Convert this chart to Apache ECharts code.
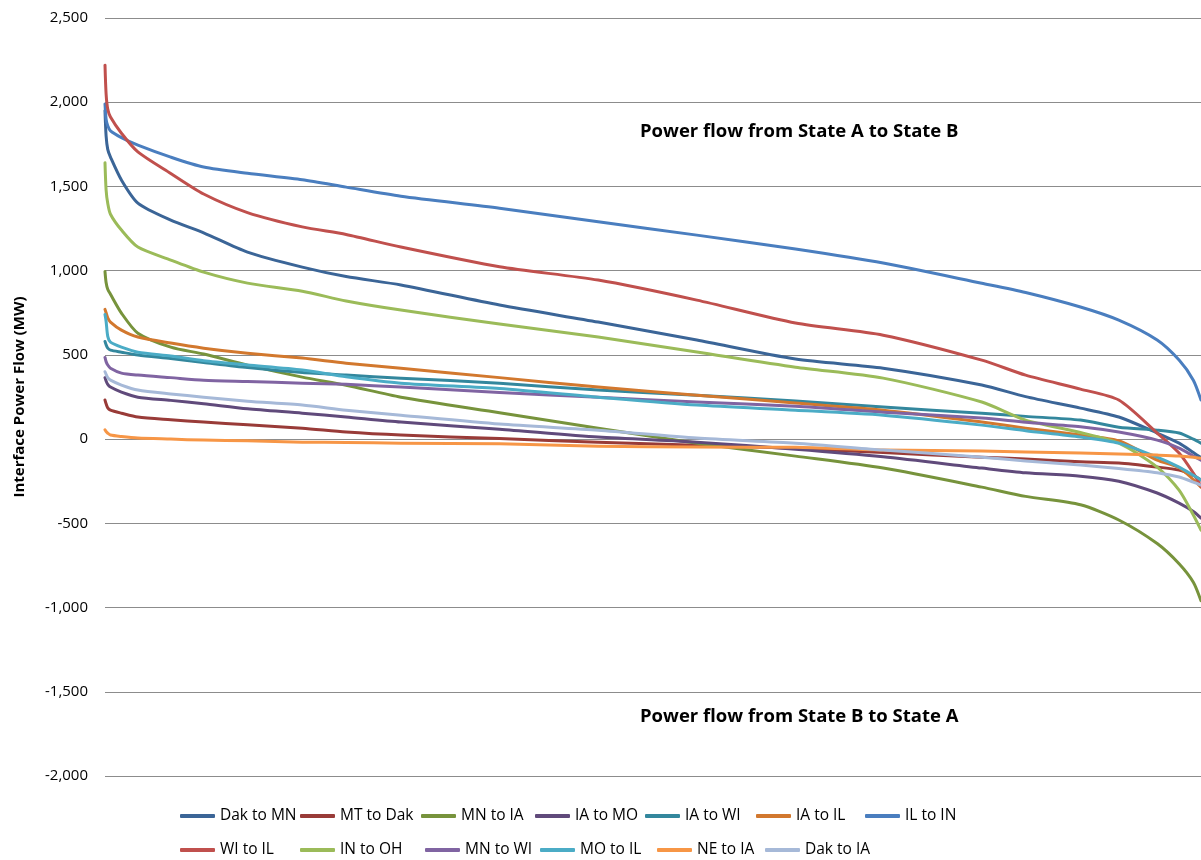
<!DOCTYPE html>
<html>
<head>
<meta charset="utf-8">
<script src="https://cdn.jsdelivr.net/npm/echarts@6/dist/echarts.min.js"></script>
<style>
  html, body { margin: 0; padding: 0; background: #fff; }
  #chart { width: 1201px; height: 860px; }
</style>
</head>
<body>
<div id="chart"></div>
<script>
// Duration position of each sample (% of hours, sorted from highest flow to lowest)
const hours = [0, 0.1, 0.25, 0.5, 1.5, 3, 6, 9, 13, 18, 22, 27, 36, 45, 54, 63, 71, 80, 84, 89, 92.5, 96, 98, 99.3, 100];

// Interface power flow duration curves (MW)
const dakToMN = [1950, 1800, 1720, 1674, 1538, 1401, 1300, 1225, 1110, 1021, 965, 915, 796, 695, 588, 475, 421, 321, 252, 184, 131, 36, -24, -80, -110];
const mtToDak = [232, 210, 185, 172, 154, 131, 115, 101, 85, 65, 42, 24, 3, -18, -36, -55, -80, -107, -118, -135, -142, -166, -184, -215, -243];
const mnToIA  = [995, 930, 890, 860, 748, 629, 546, 505, 439, 368, 320, 249, 157, 65, -24, -101, -172, -285, -340, -390, -480, -620, -740, -850, -960];
const iaToMO  = [365, 345, 325, 309, 279, 249, 230, 210, 180, 154, 131, 101, 59, 12, -18, -60, -105, -172, -200, -220, -250, -320, -380, -430, -469];
const iaToWI  = [580, 560, 540, 528, 516, 499, 478, 455, 425, 395, 380, 362, 332, 291, 261, 226, 190, 154, 135, 113, 71, 53, 36, 0, -24];
const iaToIL  = [770, 750, 720, 695, 647, 606, 570, 540, 510, 481, 451, 421, 365, 309, 261, 214, 172, 101, 65, 24, -10, -125, -170, -240, -285];
const ilToIN  = [1990, 1900, 1860, 1830, 1790, 1745, 1674, 1615, 1578, 1540, 1496, 1442, 1371, 1290, 1211, 1128, 1045, 925, 870, 784, 706, 588, 469, 350, 232];
const wiToIL  = [2220, 2050, 1960, 1912, 1816, 1705, 1577, 1455, 1345, 1260, 1215, 1140, 1023, 944, 825, 689, 617, 469, 380, 297, 232, 36, -83, -202, -280];
const inToOH  = [1640, 1480, 1400, 1335, 1241, 1140, 1063, 991, 926, 878, 820, 766, 683, 606, 517, 427, 362, 220, 113, 39, -24, -166, -303, -450, -540];
const mnToWI  = [485, 460, 440, 421, 392, 380, 365, 350, 342, 332, 325, 309, 276, 249, 220, 195, 160, 125, 100, 74, 42, -6, -53, -100, -125];
const moToIL  = [740, 700, 610, 576, 546, 516, 493, 465, 440, 410, 370, 332, 300, 249, 202, 172, 142, 83, 50, 12, -24, -107, -166, -215, -243];
const neToIA  = [55, 45, 35, 24, 15, 6, 0, -6, -10, -18, -20, -24, -28, -42, -47, -49, -65, -71, -77, -83, -88, -95, -100, -107, -113];
const dakToIA = [400, 385, 365, 350, 321, 291, 268, 249, 225, 202, 172, 142, 89, 53, 6, -24, -65, -107, -130, -154, -175, -200, -225, -255, -273];

const seriesNames = ['Dak to MN', 'MT to Dak', 'MN to IA', 'IA to MO', 'IA to WI', 'IA to IL', 'IL to IN',
                     'WI to IL', 'IN to OH', 'MN to WI', 'MO to IL', 'NE to IA', 'Dak to IA'];
const seriesValues = [dakToMN, mtToDak, mnToIA, iaToMO, iaToWI, iaToIL, ilToIN,
                      wiToIL, inToOH, mnToWI, moToIL, neToIA, dakToIA];
const seriesColors = ['#3B6597', '#993B38', '#77933C', '#604A7B', '#33879D', '#D2782E', '#4A7EBF',
                      '#C0504D', '#9BBB59', '#8064A2', '#4BACC6', '#F79646', '#A6B9D8'];

const yTicks = { min: -2000, max: 2500, step: 500 };

// Legend placement: two rows of line keys under the plot
const legendSlots = [
  [180, 804], [300, 804], [421, 804], [535, 804], [645, 804], [756, 804], [865, 804],
  [180, 838], [300, 838], [425, 838], [540, 838], [657, 838], [765, 838]
];

const chart = echarts.init(document.getElementById('chart'), null, { renderer: 'canvas' });

const series = seriesNames.map((name, i) => ({
  name: name,
  type: 'line',
  data: hours.map((h, j) => [h, seriesValues[i][j]]),
  showSymbol: false,
  smooth: 0.25,
  lineStyle: { width: 3, color: seriesColors[i], cap: 'round', join: 'round' },
  itemStyle: { color: seriesColors[i] },
  emphasis: { disabled: true },
  animation: false
}));

const legends = seriesNames.map((name, i) => ({
  data: [name],
  left: legendSlots[i][0],
  top: legendSlots[i][1] + 4,
  padding: 0,
  icon: 'roundRect',
  itemWidth: 35,
  itemHeight: 4,
  selectedMode: false,
  textStyle: { fontFamily: 'Open Sans', fontSize: 15.5, color: '#000' }
}));

chart.setOption({
  backgroundColor: '#fff',
  animation: false,
  color: seriesColors,
  grid: { left: 105, right: 0, top: 18, bottom: 84, containLabel: false },
  legend: legends,
  xAxis: {
    type: 'value',
    min: 0,
    max: 100,
    show: false
  },
  yAxis: {
    type: 'value',
    min: yTicks.min,
    max: yTicks.max,
    interval: yTicks.step,
    name: 'Interface Power Flow (MW)',
    nameLocation: 'middle',
    nameGap: 78,
    nameTextStyle: { fontFamily: 'Open Sans', fontWeight: 'bold', fontSize: 15, color: '#000' },
    axisLine: { show: false },
    axisTick: { show: false },
    axisLabel: {
      margin: 17,
      fontFamily: 'Open Sans',
      fontSize: 15,
      color: '#000',
      formatter: v => v.toLocaleString('en-US')
    },
    splitLine: { lineStyle: { color: '#8c8c8c', width: 1 } }
  },
  graphic: [
    {
      type: 'text', left: 640, top: 122,
      style: { text: 'Power flow from State A to State B', font: 'bold 18.5px "Open Sans"', fill: '#000' }
    },
    {
      type: 'text', left: 640, top: 707,
      style: { text: 'Power flow from State B to State A', font: 'bold 18.5px "Open Sans"', fill: '#000' }
    }
  ],
  series: series
});
</script>
</body>
</html>
